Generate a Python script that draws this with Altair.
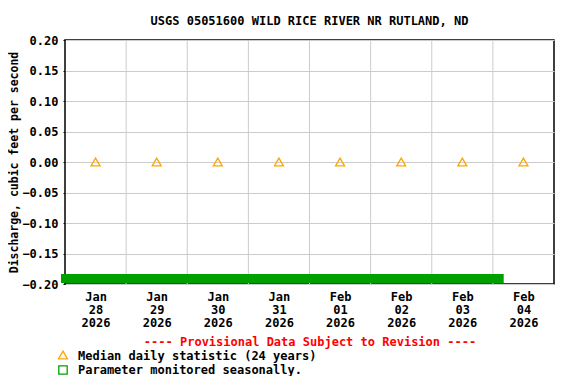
import altair as alt
import pandas as pd

# ---- data ----
days = ["2026-01-28", "2026-01-29", "2026-01-30", "2026-01-31",
        "2026-02-01", "2026-02-02", "2026-02-03", "2026-02-04"]
median_values = [0.0, 0.0, 0.0, 0.0, 0.0, 0.0, 0.0, 0.0]
grid_times = ["2026-01-28T12:00:00Z", "2026-01-29T12:00:00Z", "2026-01-30T12:00:00Z",
              "2026-01-31T12:00:00Z", "2026-02-01T12:00:00Z", "2026-02-02T12:00:00Z",
              "2026-02-03T12:00:00Z"]
y_ticks = [-0.20, -0.15, -0.10, -0.05, 0.00, 0.05, 0.10, 0.15, 0.20]
seasonal_start = ["2026-01-27T10:25:00Z"]
seasonal_end = ["2026-02-03T16:15:00Z"]
seasonal_low = [-0.1985]
seasonal_high = [-0.1835]

FONT = "DejaVu Sans Mono"

med_df = pd.DataFrame({"t": [d + "T00:00:00Z" for d in days], "v": median_values})
grid_df = pd.DataFrame({"t": grid_times})
bar_df = pd.DataFrame({"t1": seasonal_start, "t2": seasonal_end,
                       "y1": seasonal_low, "y2": seasonal_high})

x_scale = alt.Scale(type="utc",
                    domain=[alt.DateTime(year=2026, month=1, date=27, hours=12, utc=True),
                            alt.DateTime(year=2026, month=2, date=4, hours=12, utc=True)])
y_scale = alt.Scale(domain=[-0.2, 0.2], nice=False, zero=False)

label_vals = [alt.DateTime(year=int(d[:4]), month=int(d[5:7]), date=int(d[8:10]), hours=0, utc=True)
              for d in days]

x_axis = alt.Axis(values=label_vals, grid=False, ticks=False, domain=False,
                  labelExpr="[utcFormat(datum.value, '%b'), utcFormat(datum.value, '%d'), utcFormat(datum.value, '%Y')]",
                  labelFont=FONT, labelFontWeight="bold", labelFontSize=12,
                  labelColor="black", labelPadding=7, labelLineHeight=13,
                  labelOverlap=False, title=None, labelAngle=0)
y_axis = alt.Axis(values=y_ticks, format=".2f", grid=True, gridColor="#cccccc",
                  ticks=True, tickSize=2, tickColor="black", domain=False,
                  labelFont=FONT, labelFontWeight="bold", labelFontSize=12,
                  labelColor="black", labelPadding=5, labelOverlap=False,
                  title="Discharge, cubic feet per second",
                  titleFont=FONT, titleFontWeight="bold", titleFontSize=11.5,
                  titleColor="black", titleX=-48, titleY=122, titleAngle=270,
                  titleAlign="center", titleBaseline="alphabetic")

grid = alt.Chart(grid_df).mark_rule(color="#cccccc", strokeWidth=1).encode(
    x=alt.X("t:T", scale=x_scale, axis=x_axis)
)

base_y = alt.Chart(med_df).mark_point(shape="triangle-up", filled=False, color="#FFA500",
                                      size=80, strokeWidth=1.3, opacity=1).encode(
    x=alt.X("t:T", scale=x_scale, axis=x_axis),
    y=alt.Y("v:Q", scale=y_scale, axis=y_axis),
)

bar = alt.Chart(bar_df).mark_rect(color="#00A000", clip=False).encode(
    x=alt.X("t1:T", scale=x_scale, axis=x_axis),
    x2="t2:T",
    y=alt.Y("y1:Q", scale=y_scale, axis=y_axis),
    y2="y2:Q",
)

# ---- legend / annotations below the plot ----
prov = alt.Chart(pd.DataFrame({"s": ["---- Provisional Data Subject to Revision ----"]})).mark_text(
    font=FONT, fontWeight="bold", fontSize=12, color="red", align="center", baseline="alphabetic"
).encode(text="s:N", x=alt.value(245), y=alt.value(306))

leg_text = alt.Chart(pd.DataFrame({"s": ["Median daily statistic (24 years)",
                                         "Parameter monitored seasonally."],
                                   "yy": [320, 334]})).mark_text(
    font=FONT, fontWeight="bold", fontSize=12, color="black", align="left", baseline="alphabetic"
).encode(text="s:N", x=alt.value(13), y=alt.Y("yy:Q", scale=None))

leg_tri = alt.Chart(pd.DataFrame({"k": [1]})).mark_point(
    shape="triangle-up", filled=False, color="#FFA500", size=80, strokeWidth=1.3, opacity=1
).encode(x=alt.value(-2), y=alt.value(315))

leg_sq = alt.Chart(pd.DataFrame({"k": [1]})).mark_point(
    shape="square", filled=False, color="#00A000", size=70, strokeWidth=1.3, opacity=1
).encode(x=alt.value(-2), y=alt.value(330))

chart = alt.layer(grid, base_y, bar, prov, leg_text, leg_tri, leg_sq).properties(
    width=489, height=244,
    autosize=alt.AutoSizeParams(type="none"),
    padding={"left": 57, "top": 32, "right": 14, "bottom": 92},
    title=alt.TitleParams("USGS 05051600 WILD RICE RIVER NR RUTLAND, ND",
                          font=FONT, fontWeight="bold", fontSize=12, color="black",
                          anchor="middle", offset=6),
).configure_view(stroke="black", strokeWidth=1.5)

chart.save("out.html", embed_options={"renderer": "svg", "actions": False})
